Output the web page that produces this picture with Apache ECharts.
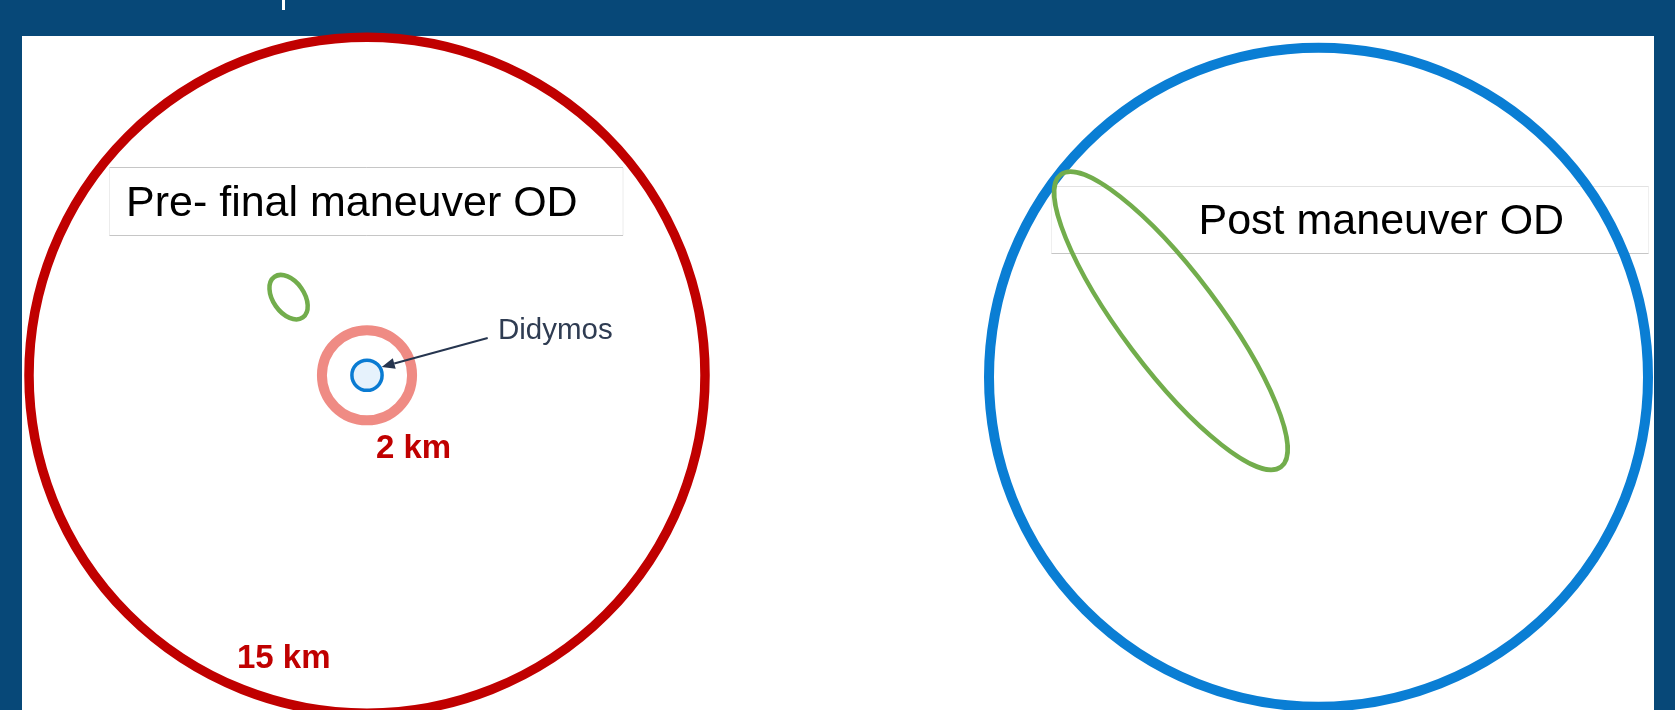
<!DOCTYPE html>
<html>
<head>
<meta charset="utf-8">
<script src="https://cdn.jsdelivr.net/npm/echarts@6/dist/echarts.min.js"></script>
<style>
html,body{margin:0;padding:0;background:#074878;}
#chart{width:1675px;height:710px;}
</style>
</head>
<body>
<div id="chart"></div>
<script>
// ---- Data (km, relative to Didymos at the centre of each panel) ----
const preRingNames = ['15 km', '2 km', 'Didymos'];
const preRingX = [0, 0, 0];
const preRingY = [0, 0, 0];
const preRingRadiusKm = [15, 2, 0.67];

const postRingNames = ['15 km'];
const postRingX = [0];
const postRingY = [0];
const postRingRadiusKm = [15];

const ellipseNames = ['Pre- final maneuver OD', 'Post maneuver OD'];
const ellipseCenterX = [-3.48, -6.72];
const ellipseCenterY = [3.5, 2.57];
const ellipseSemiMajor = [1.1, 8.33];
const ellipseSemiMinor = [0.7, 2.2];
const ellipseTiltDeg = [-55, -53];

const axisRangeKm = [-15, 15];

// ---- Styles ----
const preRingStyles = [
  { stroke: '#c00000', lineWidth: 9.5, fill: 'none' },
  { stroke: '#ef8b84', lineWidth: 10, fill: 'none' },
  { stroke: '#0a7bd2', lineWidth: 3.5, fill: '#e6f2fc' }
];
const postRingStyles = [
  { stroke: '#0a7ed4', lineWidth: 10, fill: 'none' }
];
const ellipseColor = '#72ad4c';
const FONT = '"Liberation Sans", Arial, Helvetica, sans-serif';

function ringRenderer(styles) {
  return function (params, api) {
    const c = api.coord([api.value(0), api.value(1)]);
    const r = api.size([api.value(2), 0])[0];
    const st = styles[params.dataIndex];
    return {
      type: 'circle',
      shape: { cx: c[0], cy: c[1], r: r },
      style: { fill: st.fill, stroke: st.stroke, lineWidth: st.lineWidth }
    };
  };
}
function ellipseRenderer(params, api) {
  const c = api.coord([api.value(0), api.value(1)]);
  const ra = api.size([api.value(2), 0])[0];
  const rb = api.size([0, api.value(3)])[1];
  return {
    type: 'ellipse',
    x: c[0], y: c[1],
    rotation: api.value(4) * Math.PI / 180,
    shape: { cx: 0, cy: 0, rx: ra, ry: rb },
    style: { fill: 'none', stroke: ellipseColor, lineWidth: 4.5 }
  };
}

const preRingData = preRingX.map((x, i) => ({ name: preRingNames[i], value: [x, preRingY[i], preRingRadiusKm[i]] }));
const postRingData = postRingX.map((x, i) => ({ name: postRingNames[i], value: [x, postRingY[i], postRingRadiusKm[i]] }));
const ellipseData = ellipseNames.map((n, i) => ({ name: n, value: [ellipseCenterX[i], ellipseCenterY[i], ellipseSemiMajor[i], ellipseSemiMinor[i], ellipseTiltDeg[i]] }));

function axis(gridIndex) {
  return { type: 'value', gridIndex: gridIndex, min: axisRangeKm[0], max: axisRangeKm[1], show: false };
}

// arrow geometry (label to Didymos)
const arrowFrom = [487.7, 338];
const arrowTip = [381.7, 367];
const dx = arrowTip[0] - arrowFrom[0], dy = arrowTip[1] - arrowFrom[1];
const len = Math.sqrt(dx * dx + dy * dy);
const ux = dx / len, uy = dy / len;
const headLen = 13, headHalf = 5.5;
const base = [arrowTip[0] - ux * headLen, arrowTip[1] - uy * headLen];

const chart = echarts.init(document.getElementById('chart'), null, { renderer: 'canvas' });
chart.setOption({
  backgroundColor: '#074878',
  animation: false,
  grid: [
    { left: 29, top: 40.5, width: 676, height: 676 },
    { left: 989, top: 47.7, width: 659, height: 659 }
  ],
  xAxis: [axis(0), axis(1)],
  yAxis: [axis(0), axis(1)],
  graphic: [
    { type: 'rect', z: 0, shape: { x: 22, y: 36, width: 1632, height: 680 }, style: { fill: '#ffffff' } },
    { type: 'rect', z: 0, shape: { x: 282, y: 0, width: 3, height: 10 }, style: { fill: '#ffffff' } },
    // left title box
    { type: 'rect', z: 0, shape: { x: 109.5, y: 167.5, width: 513.5, height: 68 }, style: { fill: '#ffffff', stroke: '#ececec', lineWidth: 1 } },
    { type: 'line', z: 1, shape: { x1: 109.5, y1: 167.5, x2: 623, y2: 167.5 }, style: { stroke: '#c6c6c6', lineWidth: 1 } },
    { type: 'line', z: 1, shape: { x1: 109.5, y1: 235.5, x2: 623, y2: 235.5 }, style: { stroke: '#c6c6c6', lineWidth: 1 } },
    { type: 'text', z: 5, x: 126, y: 204.5, style: { text: 'Pre- final maneuver OD', font: '43px ' + FONT, fill: '#000000', textAlign: 'left', verticalAlign: 'middle', textVerticalAlign: 'middle' } },
    // right title box
    { type: 'rect', z: 0, shape: { x: 1051.5, y: 186.5, width: 597, height: 67 }, style: { fill: '#ffffff', stroke: '#efefef', lineWidth: 1 } },
    { type: 'line', z: 1, shape: { x1: 1051.5, y1: 186.5, x2: 1648.5, y2: 186.5 }, style: { stroke: '#e2e2e2', lineWidth: 1 } },
    { type: 'line', z: 1, shape: { x1: 1051.5, y1: 253.5, x2: 1648.5, y2: 253.5 }, style: { stroke: '#c6c6c6', lineWidth: 1 } },
    { type: 'text', z: 5, x: 1198.5, y: 222, style: { text: 'Post maneuver OD', font: '43px ' + FONT, fill: '#000000', textAlign: 'left', verticalAlign: 'middle', textVerticalAlign: 'middle' } },
    // labels
    { type: 'text', z: 5, x: 498, y: 330.5, style: { text: 'Didymos', font: '29.5px ' + FONT, fill: '#2f3c52', textAlign: 'left', verticalAlign: 'middle', textVerticalAlign: 'middle' } },
    { type: 'text', z: 5, x: 376, y: 449, style: { text: '2 km', font: 'bold 33px ' + FONT, fill: '#c00000', textAlign: 'left', verticalAlign: 'middle', textVerticalAlign: 'middle' } },
    { type: 'text', z: 5, x: 237, y: 658.5, style: { text: '15 km', font: 'bold 33px ' + FONT, fill: '#c00000', textAlign: 'left', verticalAlign: 'middle', textVerticalAlign: 'middle' } },
    // arrow
    { type: 'line', z: 10, shape: { x1: arrowFrom[0], y1: arrowFrom[1], x2: base[0], y2: base[1] }, style: { stroke: '#26354f', lineWidth: 2 } },
    { type: 'polygon', z: 10, shape: { points: [arrowTip, [base[0] - uy * headHalf, base[1] + ux * headHalf], [base[0] + uy * headHalf, base[1] - ux * headHalf]] }, style: { fill: '#26354f' } }
  ],
  series: [
    { type: 'custom', name: 'preRings', xAxisIndex: 0, yAxisIndex: 0, clip: false, z: 2, renderItem: ringRenderer(preRingStyles), data: preRingData },
    { type: 'custom', name: 'preEllipse', xAxisIndex: 0, yAxisIndex: 0, clip: false, z: 3, renderItem: ellipseRenderer, data: [ellipseData[0]] },
    { type: 'custom', name: 'postRings', xAxisIndex: 1, yAxisIndex: 1, clip: false, z: 2, renderItem: ringRenderer(postRingStyles), data: postRingData },
    { type: 'custom', name: 'postEllipse', xAxisIndex: 1, yAxisIndex: 1, clip: false, z: 3, renderItem: ellipseRenderer, data: [ellipseData[1]] }
  ]
});
</script>
</body>
</html>
